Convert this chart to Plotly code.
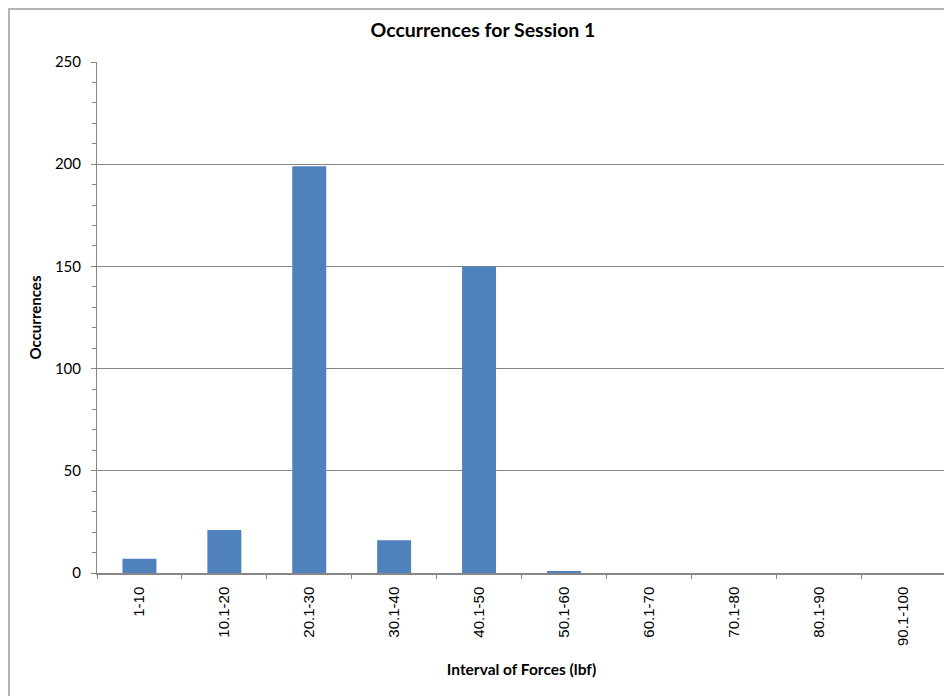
import plotly.graph_objects as go

categories = ["1-10", "10.1-20", "20.1-30", "30.1-40", "40.1-50",
              "50.1-60", "60.1-70", "70.1-80", "80.1-90", "90.1-100"]
occurrences = [7, 21, 199, 16, 150, 1, 0, 0, 0, 0]
y_ticks = [0, 50, 100, 150, 200, 250]

# page body has an 8px margin, so figure coords = screen coords - 8
OFF = 8
W, H = 952 - OFF, 696 - OFF
L, T = 97 - OFF, 62 - OFF
R = W - (946 - OFF)
B = H - (573 - OFF)
pw, ph = W - L - R, H - T - B

fig = go.Figure(go.Bar(
    x=categories, y=occurrences,
    marker=dict(color="#4F81BD", line=dict(width=0)),
))

axis_col = "#868686"
fig.update_layout(
    width=W, height=H,
    margin=dict(l=L, r=R, t=T, b=B, autoexpand=False),
    paper_bgcolor="white", plot_bgcolor="white",
    bargap=0.6,
    showlegend=False,
    title=dict(text="<b>Occurrences for Session 1</b>", x=(483 - OFF) / W, xanchor="center",
               y=1 - (30 - OFF) / H, yanchor="middle",
               font=dict(family="Lato, Carlito, sans-serif", size=19.5, color="black")),
    font=dict(family="Lato, sans-serif", color="black"),
)
fig.update_xaxes(
    type="category",
    showline=True, linecolor=axis_col, linewidth=1.5,
    ticks="outside", tickson="boundaries", ticklen=4, tickcolor=axis_col,
    tickangle=-90, ticklabelstandoff=6,
    tickfont=dict(family="Liberation Sans, Arial, sans-serif", size=15, color="black"),
    showgrid=False,
    title=dict(text="<b>Interval of Forces (lbf)</b>", standoff=19,
               font=dict(family="Lato, sans-serif", size=15.5, color="black")),
)
fig.update_yaxes(
    range=[0, 250], tickvals=y_ticks,
    showline=True, linecolor=axis_col, linewidth=1,
    ticks="outside", ticklen=5, tickcolor=axis_col,
    ticklabelstandoff=7,
    minor=dict(dtick=10, ticks="outside", ticklen=4, tickcolor=axis_col, showgrid=False),
    showgrid=True, gridcolor=axis_col, gridwidth=1,
    zeroline=False,
    tickfont=dict(family="Lato, sans-serif", size=15, color="black"),
    title=dict(text="<b>Occurrences</b>", standoff=9,
               font=dict(family="Lato, sans-serif", size=15, color="black")),
)

# outer chart frame (left and top edges of the chart area)
fig.add_shape(type="rect", xref="paper", yref="paper",
              x0=(1 - L) / pw, x1=(W + 20 - L) / pw,
              y0=-(H + 20 - T - ph) / ph, y1=(ph + T - 1) / ph,
              line=dict(color="#b4b4b4", width=2), fillcolor="rgba(0,0,0,0)", layer="below")

fig.write_html("out.html")
